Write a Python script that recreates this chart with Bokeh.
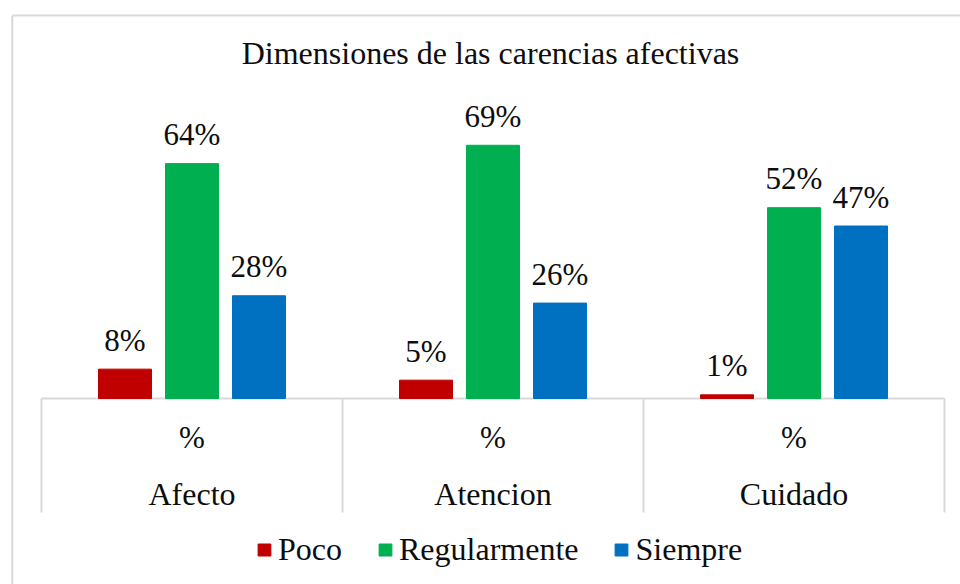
from bokeh.plotting import figure
from bokeh.models import ColumnDataSource, Legend, LegendItem, Label
from bokeh.embed import file_html
from bokeh.resources import INLINE
from bokeh.core.properties import value

# ---- data ----
categories = ["Afecto", "Atencion", "Cuidado"]
sub_label = "%"
series = ["Poco", "Regularmente", "Siempre"]
poco = [8, 5, 1]
regularmente = [64, 69, 52]
siempre = [28, 26, 47]
colors = ["#C00000", "#00B050", "#0070C0"]
title_text = "Dimensiones de las carencias afectivas"

# ---- layout (pixels) ----
W, H = 960, 584
PX_X = 301.0   # px per category
PX_Y = 3.67    # px per percent
X0 = 41        # px of left edge of first category
Y0 = 398       # px (from top) of the baseline

x_start = -X0 / PX_X
x_end = (W - X0) / PX_X
y_end = Y0 / PX_Y
y_start = -(H - Y0) / PX_Y

def dx(px):
    return (px - X0) / PX_X

def dy(px_top):
    return (Y0 - px_top) / PX_Y

FONT = "Liberation Serif"
TXT = "#0d0d0d"
GRID = "#D9D9D9"

p = figure(width=W, height=H, x_range=(x_start, x_end), y_range=(y_start, y_end),
           output_backend="svg", toolbar_location=None, min_border=0,
           x_axis_location=None, y_axis_location=None,
           outline_line_color=None, background_fill_color="white",
           border_fill_color="white")
p.grid.visible = False

# chart border (top and left visible)
p.segment(x0=[dx(11.8), dx(11.8)], y0=[dy(15), dy(15)], x1=[x_end, dx(11.8)], y1=[dy(15), y_start],
          line_color=GRID, line_width=2)

# category axis line and dividers
n = len(categories)
p.segment(x0=[0], y0=[0], x1=[n], y1=[0], line_color=GRID, line_width=2)
p.segment(x0=list(range(n + 1)), y0=[0] * (n + 1), x1=list(range(n + 1)),
          y1=[dy(512)] * (n + 1), line_color=GRID, line_width=2)

values = [poco, regularmente, siempre]
offset = 67 / PX_X
bar_w = 53 / PX_X
items = []
for j, (name, vals, col) in enumerate(zip(series, values, colors)):
    xs = [i + 0.5 + (j - 1) * offset for i in range(n)]
    src = ColumnDataSource(dict(x=xs, top=vals, lab=[f"{v}%" for v in vals]))
    r = p.vbar(x="x", top="top", bottom=0, width=bar_w, source=src,
               fill_color=col, line_color=col)
    p.text(x="x", y="top", text="lab", source=src, text_align="center",
           text_baseline="middle", y_offset=-29, text_font=value(FONT),
           text_font_size="31px", text_color=TXT)
    items.append(LegendItem(label=name, renderers=[r]))

# category labels
cx = [i + 0.5 for i in range(n)]
p.text(x=cx, y=[dy(437)] * n, text=[sub_label] * n, text_align="center",
       text_baseline="middle", text_font=value(FONT), text_font_size="31px",
       text_color=TXT)
p.text(x=cx, y=[dy(493)] * n, text=categories, text_align="center",
       text_baseline="middle", text_font=value(FONT), text_font_size="32px",
       text_color=TXT)

# title
p.add_layout(Label(x=dx(490), y=dy(52), text=title_text, text_align="center",
                   text_baseline="middle", text_font=FONT, text_font_size="32px",
                   text_color=TXT))

legend = Legend(items=items, orientation="horizontal", location=(256, 16),
                padding=0, margin=0, spacing=35, label_standoff=6,
                glyph_width=16, glyph_height=15, label_text_font=FONT,
                label_text_font_size="32px", label_text_color=TXT,
                background_fill_alpha=0, border_line_alpha=0)
p.add_layout(legend)

open("out.html", "w").write(file_html(p, INLINE))
